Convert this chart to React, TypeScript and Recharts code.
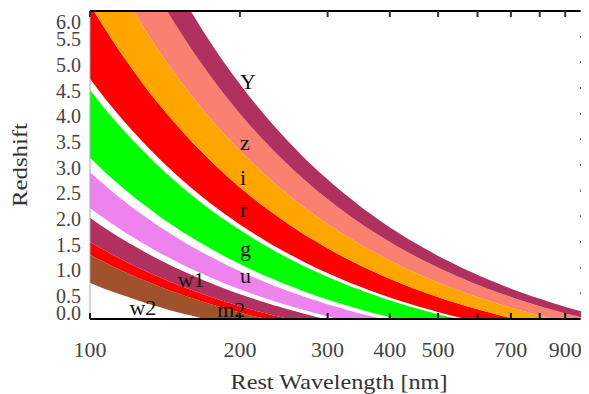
import React from 'react';
import { ComposedChart, Area, Scatter, XAxis, YAxis } from 'recharts';

const filterNames = ['w2', 'm2', 'w1', 'u', 'g', 'r', 'i', 'z', 'Y'];
const filterLowerNm = [170, 225, 250, 316, 414, 568, 713, 856, 1000];
const filterUpperNm = [225, 250, 297, 386, 546, 713, 856, 1000, 1115];
const filterColors = ['#A0522D', '#FF0000', '#B03060', '#EE82EE', '#00FF00', '#FF0000', '#FFA500', '#FA8072', '#B03060'];

// Band label anchors (rest wavelength nm, redshift)
const labelWavelengthNm = [120, 180, 150, 200, 200, 200, 200, 200, 200];
const labelRedshift = [0.08, 0.04, 0.62, 0.7, 1.23, 1.99, 2.61, 3.29, 4.48];

// Rest wavelength sample grid (nm)
const restWavelengthsNm = [
  100, 105, 110, 116, 122, 128, 135, 142, 150, 158, 166, 175, 185, 195, 205, 216, 228, 240,
  253, 266, 280, 295, 311, 328, 345, 364, 383, 404, 425, 448, 472, 497, 524, 552, 581, 612,
  645, 680, 716, 754, 795, 837, 882, 929, 965, 1000,
];

const xTicks = [100, 200, 300, 400, 500, 600, 700, 800, 900];
const xTickLabels = ['100', '200', '300', '400', '500', '', '700', '', '900'];
const yTicks = [0, 0.5, 1, 1.5, 2, 2.5, 3, 3.5, 4, 4.5, 5, 5.5, 6];
const yTickLabels = ['0.0', '0.5', '1.0', '1.5', '2.0', '2.5', '3.0', '3.5', '4.0', '4.5', '5.0', '5.5', '6.0'];

const FONT = "'Liberation Serif', 'Times New Roman', serif";

const rows = restWavelengthsNm.map((lam) => {
  const row: Record<string, any> = { lambda: lam };
  filterNames.forEach((n, i) => {
    // redshift at which each filter edge maps onto this rest wavelength
    row['band_' + n] = [filterLowerNm[i] / lam - 1, filterUpperNm[i] / lam - 1];
  });
  return row;
});

const labelPoints = filterNames.map((n, i) => ({
  lambda: labelWavelengthNm[i],
  redshift: labelRedshift[i],
  name: n,
}));

const XBottomTick = (props: any) => {
  const { x, y, payload } = props;
  const idx = xTicks.indexOf(payload.value);
  const lbl = idx >= 0 ? xTickLabels[idx] : '';
  return (
    <g>
      <line x1={x} x2={x} y1={y} y2={y - 6} stroke="#111" strokeWidth={2} />
      {lbl ? (
        <text x={x} y={y + 38} textAnchor="middle" fontSize={22} fill="#444" style={{ fontFamily: FONT }}>
          {lbl}
        </text>
      ) : null}
    </g>
  );
};

const XTopTick = (props: any) => {
  const { x, y } = props;
  return <line x1={x} x2={x} y1={y} y2={y + 6} stroke="#333" strokeWidth={2} />;
};

const YLeftTick = (props: any) => {
  const { x, y, payload } = props;
  const idx = yTicks.indexOf(payload.value);
  const lbl = idx >= 0 ? yTickLabels[idx] : '';
  let off = 3;
  if (payload.value === 6) off = 11;
  if (payload.value === 0) off = -6;
  return (
    <text x={x} y={y + off} dy="0.34em" textAnchor="end" fontSize={20} fill="#444" style={{ fontFamily: FONT }}>
      {lbl}
    </text>
  );
};

const YRightTick = (props: any) => {
  const { x, y } = props;
  return <line x1={x - 8} x2={x} y1={y} y2={y} stroke="#555" strokeWidth={2} />;
};

const XTitle = (props: any) => {
  const vb = props.viewBox || { x: 82, y: 311, width: 498, height: 75 };
  return (
    <text
      x={vb.x + vb.width / 2}
      y={vb.y + 70}
      textAnchor="middle"
      fontSize={22}
      fill="#333"
      style={{ fontFamily: FONT }}
      textLength={217}
      lengthAdjust="spacingAndGlyphs"
    >
      Rest Wavelength [nm]
    </text>
  );
};

const YTitle = (props: any) => {
  const vb = props.viewBox || { x: 0, y: 3, width: 82, height: 308 };
  const cx = vb.x + 19;
  const cy = vb.y + vb.height / 2;
  return (
    <text
      x={cx}
      y={cy}
      transform={`rotate(-90, ${cx}, ${cy})`}
      textAnchor="middle"
      fontSize={21}
      fill="#333"
      style={{ fontFamily: FONT }}
      textLength={84}
      lengthAdjust="spacingAndGlyphs"
    >
      Redshift
    </text>
  );
};

const BandLabel = (props: any) => {
  const { cx, cy, payload } = props;
  return (
    <text x={cx} y={cy} fontSize={22} fill="#111" style={{ fontFamily: FONT }}>
      {payload.name}
    </text>
  );
};

export default function App() {
  return (
    <div style={{ width: 581, height: 386, fontFamily: FONT }}>
      <ComposedChart width={581} height={386} data={rows} margin={{ top: 2, right: 0, bottom: 0, left: 0 }}>
        {filterNames.map((n, i) => (
          <Area
            key={n}
            dataKey={'band_' + n}
            type="monotone"
            fill={filterColors[i]}
            fillOpacity={1}
            stroke="none"
            dot={false}
            activeDot={false}
            isAnimationActive={false}
          />
        ))}
        <Scatter
          data={labelPoints}
          dataKey="redshift"
          xAxisId="top"
          yAxisId="right"
          shape={BandLabel}
          isAnimationActive={false}
        />
        <XAxis
          dataKey="lambda"
          type="number"
          scale="log"
          domain={[100, 1000]}
          allowDataOverflow
          ticks={xTicks}
          interval={0}
          height={75}
          tickSize={0}
          tickMargin={0}
          tickLine={false}
          axisLine={{ stroke: '#000', strokeWidth: 2 }}
          tick={XBottomTick}
          label={XTitle}
        />
        <XAxis
          xAxisId="top"
          dataKey="lambda"
          orientation="top"
          type="number"
          scale="log"
          domain={[100, 1000]}
          allowDataOverflow
          ticks={xTicks}
          interval={0}
          height={1}
          tickSize={0}
          tickMargin={0}
          tickLine={false}
          axisLine={{ stroke: '#000', strokeWidth: 2 }}
          tick={XTopTick}
        />
        <YAxis
          type="number"
          domain={[0, 6]}
          allowDataOverflow
          ticks={yTicks}
          interval={0}
          width={82}
          tickSize={0}
          tickMargin={9}
          tickLine={false}
          axisLine={{ stroke: '#aaa', strokeWidth: 1 }}
          tick={YLeftTick}
          label={YTitle}
        />
        <YAxis
          yAxisId="right"
          orientation="right"
          type="number"
          domain={[0, 6]}
          allowDataOverflow
          ticks={yTicks}
          interval={0}
          width={1}
          tickSize={0}
          tickMargin={0}
          tickLine={false}
          axisLine={false}
          tick={YRightTick}
        />
      </ComposedChart>
    </div>
  );
}
